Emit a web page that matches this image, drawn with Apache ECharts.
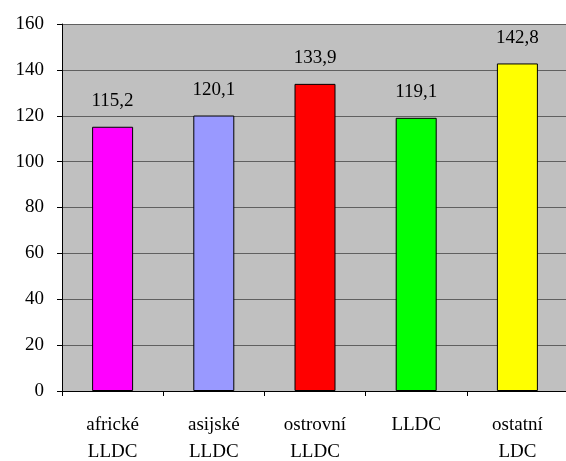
<!DOCTYPE html>
<html>
<head>
<meta charset="utf-8">
<script src="https://cdn.jsdelivr.net/npm/echarts@6/dist/echarts.min.js"></script>
<style>html,body{margin:0;padding:0;background:#fff;}#c{width:566px;height:461px;}</style>
</head>
<body>
<div id="c"></div>
<script>
var categories = ['africké\nLLDC', 'asijské\nLLDC', 'ostrovní\nLLDC', 'LLDC', 'ostatní\nLDC'];
var values = [115.2, 120.1, 133.9, 119.1, 142.8];
var colors = ['#FF00FF', '#9999FF', '#FF0000', '#00FF00', '#FFFF00'];
var yTicks = { min: 0, max: 160, interval: 20 };

var font = '"Liberation Serif", "Times New Roman", serif';
var chart = echarts.init(document.getElementById('c'), null, { renderer: 'canvas' });
chart.setOption({
  animation: false,
  grid: { left: 62, right: -2, top: 24, bottom: 70, show: true, backgroundColor: '#C0C0C0', borderWidth: 0, outerBoundsMode: 'none', containLabel: false },
  xAxis: {
    type: 'category',
    data: categories,
    axisLine: { lineStyle: { color: '#000', width: 1 } },
    axisTick: { show: true, length: 5, inside: false, alignWithLabel: false, lineStyle: { color: '#000' } },
    axisLabel: { color: '#000', fontFamily: font, fontSize: 19, lineHeight: 27, margin: 21, interval: 0 }
  },
  yAxis: {
    type: 'value',
    min: yTicks.min, max: yTicks.max, interval: yTicks.interval,
    axisLine: { show: true, lineStyle: { color: '#000', width: 1 } },
    axisTick: { show: true, length: 5, lineStyle: { color: '#000' } },
    axisLabel: { color: '#000', fontFamily: font, fontSize: 19, margin: 18 },
    splitLine: { show: true, lineStyle: { color: '#606060', width: 1.2 } }
  },
  series: [{
    type: 'bar',
    barWidth: 41,
    data: values.map(function (v, i) {
      return { value: v, itemStyle: { color: colors[i], borderColor: '#000', borderWidth: 1 } };
    }),
    label: {
      show: true, position: 'top', distance: 16,
      color: '#000', fontFamily: font, fontSize: 19,
      formatter: function (p) { return p.value.toFixed(1).replace('.', ','); }
    }
  }]
});
</script>
</body>
</html>
